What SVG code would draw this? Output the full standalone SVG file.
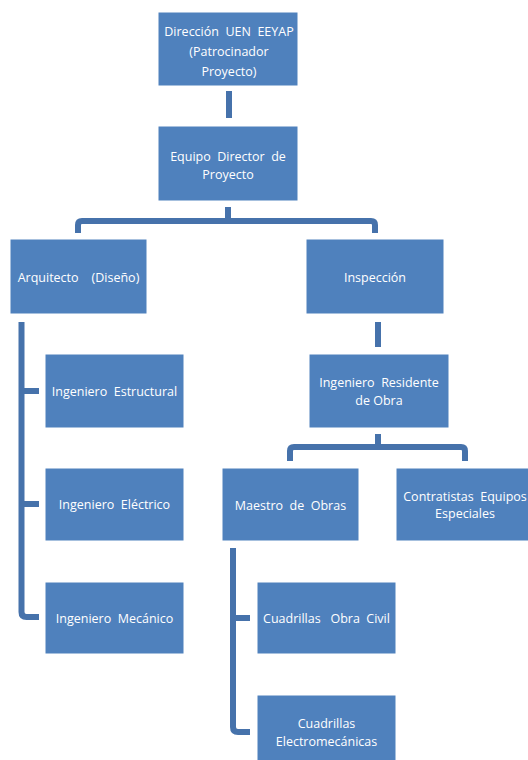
<svg xmlns="http://www.w3.org/2000/svg" width="528" height="760" viewBox="0 0 528 760">
<style>
.box{fill:#4F81BD;stroke:#ffffff;stroke-width:1}
.t{font-family:"Open Sans","Liberation Sans",sans-serif;font-size:12.5px;fill:#ffffff;text-anchor:middle;dominant-baseline:central;white-space:pre}
.c{fill:none;stroke:#4672AB;stroke-width:6;stroke-linecap:butt}
</style>
<rect width="528" height="760" fill="#ffffff"/>
<g id="connectors">
<path class="c" d="M229,91 V118"/>
<path class="c" d="M228,207 V221"/>
<path class="c" d="M78,233 V225 Q78,221 82,221 H371 Q375,221 375,225 V233"/>
<path class="c" d="M21.5,322 V612 Q21.5,617 26.5,617 H39"/>
<path class="c" d="M21.5,391 H39"/>
<path class="c" d="M21.5,504 H39"/>
<path class="c" d="M378,322 V347"/>
<path class="c" d="M378,434 V447"/>
<path class="c" d="M290,461 V451 Q290,447 294,447 H461 Q465,447 465,451 V461"/>
<path class="c" d="M233,548 V727 Q233,732 238,732 H250"/>
<path class="c" d="M233,618 H250"/>
</g>
<g id="n-direccion"><rect class="box" x="158" y="12" width="140" height="74"/>
<text class="t" x="229" y="31">Dirección  UEN  EEYAP</text>
<text class="t" x="229" y="51">(Patrocinador</text>
<text class="t" x="229" y="71">Proyecto)</text></g>
<g id="n-equipo"><rect class="box" x="158" y="126" width="140" height="75"/>
<text class="t" x="228" y="156">Equipo  Director  de</text>
<text class="t" x="228" y="174">Proyecto</text></g>
<g id="n-arquitecto"><rect class="box" x="10" y="239" width="137" height="75"/>
<text class="t" x="78.5" y="277">Arquitecto    (Diseño)</text></g>
<g id="n-inspeccion"><rect class="box" x="306" y="239" width="138" height="75"/>
<text class="t" x="375" y="277">Inspección</text></g>
<g id="n-estructural"><rect class="box" x="45" y="354" width="139" height="74"/>
<text class="t" x="114.5" y="391">Ingeniero  Estructural</text></g>
<g id="n-electrico"><rect class="box" x="45" y="468" width="139" height="73"/>
<text class="t" x="114.5" y="504">Ingeniero  Eléctrico</text></g>
<g id="n-mecanico"><rect class="box" x="45" y="582" width="139" height="72"/>
<text class="t" x="114.5" y="618">Ingeniero  Mecánico</text></g>
<g id="n-residente"><rect class="box" x="309" y="354" width="140" height="74"/>
<text class="t" x="379" y="382">Ingeniero  Residente</text>
<text class="t" x="379" y="400">de Obra</text></g>
<g id="n-maestro"><rect class="box" x="222" y="468" width="137" height="73"/>
<text class="t" x="290.5" y="505">Maestro  de  Obras</text></g>
<g id="n-contratistas"><rect class="box" x="396" y="468" width="138" height="73"/>
<text class="t" x="465" y="496">Contratistas  Equipos</text>
<text class="t" x="465" y="513">Especiales</text></g>
<g id="n-obracivil"><rect class="box" x="257" y="582" width="139" height="72"/>
<text class="t" x="326.5" y="618">Cuadrillas   Obra  Civil</text></g>
<g id="n-electromecanicas"><rect class="box" x="257" y="695" width="139" height="74"/>
<text class="t" x="326.5" y="723">Cuadrillas</text>
<text class="t" x="326.5" y="741">Electromecánicas</text></g>
</svg>
